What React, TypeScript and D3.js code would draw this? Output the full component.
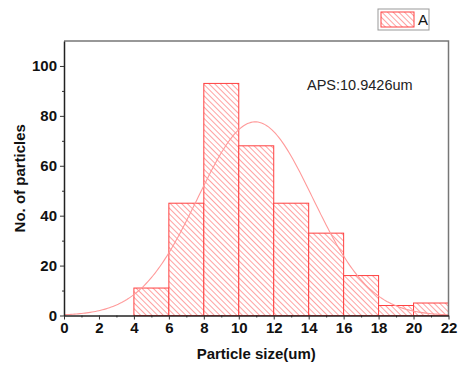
import React, { useEffect, useRef } from "react";
import * as d3 from "d3";

// histogram bins (um) and counts
const binStarts = [4, 6, 8, 10, 12, 14, 16, 18, 20];
const binWidth = 2;
const counts = [11, 45, 93, 68, 45, 33, 16, 4, 5];
const xTicks = [0, 2, 4, 6, 8, 10, 12, 14, 16, 18, 20, 22];
const yTicks = [0, 20, 40, 60, 80, 100];

// gaussian fit shown on the plot
const fitMean = 10.9426;
const fitSigma = 3.29;
const fitPeak = 77.6;

const WIDTH = 462;
const HEIGHT = 365;
const M = { left: 64, right: 13.5, top: 41, bottom: 49.5 };

export default function App() {
  const ref = useRef<SVGSVGElement>(null);

  useEffect(() => {
    const svg = d3.select(ref.current);
    svg.selectAll("*").remove();

    const x = d3.scaleLinear().domain([0, 22]).range([M.left, WIDTH - M.right]);
    const y = d3.scaleLinear().domain([0, 110]).range([HEIGHT - M.bottom, M.top]);

    const defs = svg.append("defs");
    const pat = defs
      .append("pattern")
      .attr("id", "hatch")
      .attr("patternUnits", "userSpaceOnUse")
      .attr("width", 4)
      .attr("height", 4)
      .attr("patternTransform", "rotate(-45)");
    pat.append("rect").attr("width", 4).attr("height", 4).attr("fill", "#fff");
    pat
      .append("line")
      .attr("x1", 0)
      .attr("y1", 0)
      .attr("x2", 0)
      .attr("y2", 4)
      .attr("stroke", "#ff8a8a")
      .attr("stroke-width", 1.6);

    // bars
    svg
      .append("g")
      .selectAll("rect")
      .data(counts)
      .enter()
      .append("rect")
      .attr("x", (d, i) => x(binStarts[i]))
      .attr("y", (d) => y(d))
      .attr("width", (d, i) => x(binStarts[i] + binWidth) - x(binStarts[i]))
      .attr("height", (d) => y(0) - y(d))
      .attr("fill", "url(#hatch)")
      .attr("stroke", "#ff4040")
      .attr("stroke-width", 1);

    // fit curve
    const xs = d3.range(0, 22.001, 0.1);
    const line = d3
      .line<number>()
      .x((v) => x(v))
      .y((v) => y(fitPeak * Math.exp(-((v - fitMean) ** 2) / (2 * fitSigma * fitSigma))));
    svg
      .append("path")
      .datum(xs)
      .attr("d", line)
      .attr("fill", "none")
      .attr("stroke", "#ff9a9a")
      .attr("stroke-width", 1.1);

    // frame top/right
    svg
      .append("path")
      .attr("d", `M${x(0)},${y(110)}H${x(22)}V${y(0)}`)
      .attr("fill", "none")
      .attr("stroke", "#777")
      .attr("stroke-width", 1.5);

    const font = "Liberation Sans, Arial, sans-serif";

    // x axis
    svg
      .append("g")
      .attr("transform", `translate(0,${y(0)})`)
      .call(d3.axisBottom(x).tickValues(d3.range(1, 22, 2)).tickSize(2).tickFormat(() => ""))
      .call((g) => g.select(".domain").remove());
    const xMajor = svg
      .append("g")
      .attr("transform", `translate(0,${y(0)})`)
      .call(d3.axisBottom(x).tickValues(xTicks).tickSize(4).tickSizeOuter(0).tickPadding(3));
    xMajor.select(".domain").attr("stroke", "#222").attr("stroke-width", 1.5);
    xMajor
      .selectAll("text")
      .style("font-family", font)
      .style("font-size", "15px")
      .style("font-weight", "bold")
      .attr("fill", "#111");

    // y axis
    svg
      .append("g")
      .attr("transform", `translate(${x(0)},0)`)
      .call(d3.axisLeft(y).tickValues(d3.range(10, 110, 20)).tickSize(2).tickFormat(() => ""))
      .call((g) => g.select(".domain").remove());
    const yMajor = svg
      .append("g")
      .attr("transform", `translate(${x(0)},0)`)
      .call(d3.axisLeft(y).tickValues(yTicks).tickSize(4).tickSizeOuter(0).tickPadding(3));
    yMajor.select(".domain").attr("stroke", "#222").attr("stroke-width", 1.5);
    yMajor
      .selectAll("text")
      .style("font-family", font)
      .style("font-size", "15px")
      .style("font-weight", "bold")
      .attr("fill", "#111");
    svg.selectAll(".tick line").attr("stroke", "#333");

    // titles
    svg
      .append("text")
      .attr("x", (x(0) + x(22)) / 2)
      .attr("y", 359)
      .attr("text-anchor", "middle")
      .style("font-family", font)
      .style("font-size", "15px")
      .style("font-weight", "bold")
      .attr("fill", "#111")
      .text("Particle size(um)");
    svg
      .append("text")
      .attr("transform", `translate(25,${(y(0) + y(110)) / 2}) rotate(-90)`)
      .attr("text-anchor", "middle")
      .style("font-family", font)
      .style("font-size", "15px")
      .style("font-weight", "bold")
      .attr("fill", "#111")
      .text("No. of particles");

    svg
      .append("text")
      .attr("x", 307)
      .attr("y", 90)
      .style("font-family", font)
      .style("font-size", "14.5px")
      .attr("fill", "#222")
      .text("APS:10.9426um");

    // legend
    const lg = svg.append("g").attr("transform", "translate(378,9)");
    lg.append("rect")
      .attr("width", 51)
      .attr("height", 21)
      .attr("fill", "#fff")
      .attr("stroke", "#999")
      .attr("stroke-width", 1);
    lg.append("rect")
      .attr("x", 3)
      .attr("y", 3)
      .attr("width", 33)
      .attr("height", 15)
      .attr("fill", "url(#hatch)")
      .attr("stroke", "#ff4040")
      .attr("stroke-width", 1);
    lg.append("text")
      .attr("x", 40)
      .attr("y", 16)
      .style("font-family", font)
      .style("font-size", "15px")
      .attr("fill", "#111")
      .text("A");
  }, []);

  return (
    <svg
      ref={ref}
      width={WIDTH}
      height={HEIGHT}
      style={{ position: "absolute", left: 0, top: 0, background: "#fff" }}
    ></svg>
  );
}
